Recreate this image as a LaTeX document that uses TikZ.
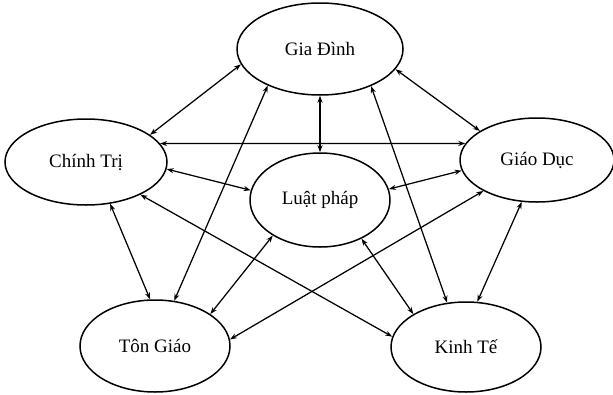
\documentclass[tikz,border=0pt]{standalone}
\usepackage{fontspec}
\setmainfont{Liberation Serif}
\usetikzlibrary{shapes.geometric,arrows.meta}
\begin{document}
\begin{tikzpicture}[x=1pt,y=-1pt,
  topic/.style={ellipse,draw,line width=1.5pt,inner sep=0pt,font=\fontsize{19}{22}\selectfont},
  link/.style={line width=1.25pt,{Stealth[length=7pt,width=5pt]}-{Stealth[length=7pt,width=5pt]}}]
\useasboundingbox (0,0) rectangle (613,394);
\node[topic,minimum width=166pt,minimum height=92pt] (gia) at (320,49) {Gia Đình};
\node[topic,minimum width=162pt,minimum height=86pt] (chinh) at (86,162) {Chính Trị};
\node[topic,minimum width=154pt,minimum height=84pt] (giao) at (537,160) {Giáo Dục};
\node[topic,minimum width=140pt,minimum height=94pt] (luat) at (320,200) {Luật pháp};
\node[topic,minimum width=150pt,minimum height=92pt] (ton) at (155,346) {Tôn Giáo};
\node[topic,minimum width=150pt,minimum height=90pt] (kinh) at (466,347) {Kinh Tế};
\draw[link] (gia.191.5) -- (chinh.23.4);
\draw[link] (gia.-15.4) -- (giao.153.4);
\draw[link] (gia.south) -- (luat.north);
\draw[link] (gia.215.4) -- (ton.67.6);
\draw[link] (gia.-36.2) -- (kinh.113.5);
\draw[link] (chinh.14.2) -- (giao.167.5);
\draw[link] (chinh.-5.6) -- (luat.172);
\draw[link] (chinh.-31.4) -- (kinh.172.5);
\draw[link] (chinh.-60.5) -- (ton.96);
\draw[link] (giao.188.5) -- (luat.9.6);
\draw[link] (giao.210.7) -- (ton.5.9);
\draw[link] (giao.250.5) -- (kinh.76);
\draw[link] (luat.217) -- (ton.30.8);
\draw[link] (luat.-43) -- (kinh.148);
\end{tikzpicture}
\end{document}
